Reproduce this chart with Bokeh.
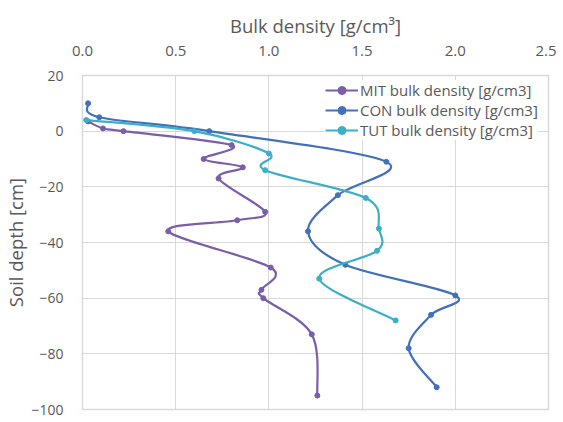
from bokeh.plotting import figure
from bokeh.models import FixedTicker, NumeralTickFormatter, Legend, LegendItem, ColumnDataSource
from bokeh.embed import file_html
from bokeh.resources import INLINE

# ---- data ----
mit_density = [0.03, 0.11, 0.22, 0.80, 0.65, 0.86, 0.73, 0.98, 0.83, 0.46, 1.01, 0.96, 0.97, 1.23, 1.26]
mit_depth = [3.5, 1, 0, -5, -10, -13, -17, -29, -32, -36, -49, -57, -60, -73, -95]

con_density = [0.03, 0.09, 0.68, 1.63, 1.37, 1.21, 1.41, 2.00, 1.87, 1.75, 1.90]
con_depth = [10, 5, 0, -11, -23, -36, -48, -59, -66, -78, -92]

tut_density = [0.02, 0.60, 1.00, 0.98, 1.52, 1.59, 1.58, 1.27, 1.68]
tut_depth = [4, 0, -8, -14, -24, -35, -43, -53, -68]

x_ticks = [0.0, 0.5, 1.0, 1.5, 2.0, 2.5]
y_ticks = [20, 0, -20, -40, -60, -80, -100]

series = [
    ("MIT bulk density [g/cm3]", mit_density, mit_depth, "#7B5EA7"),
    ("CON bulk density [g/cm3]", con_density, con_depth, "#4270BB"),
    ("TUT bulk density [g/cm3]", tut_density, tut_depth, "#3AAFC6"),
]

FONT = "Open Sans"
GREY = "#595959"


def smooth_segments(xs, ys, t=1.0 / 6.0):
    n = len(xs)
    d = dict(x0=[], y0=[], x1=[], y1=[], cx0=[], cy0=[], cx1=[], cy1=[])
    for i in range(n - 1):
        p0 = max(i - 1, 0)
        p3 = min(i + 2, n - 1)
        d["x0"].append(xs[i]); d["y0"].append(ys[i])
        d["x1"].append(xs[i + 1]); d["y1"].append(ys[i + 1])
        d["cx0"].append(xs[i] + (xs[i + 1] - xs[p0]) * t)
        d["cy0"].append(ys[i] + (ys[i + 1] - ys[p0]) * t)
        d["cx1"].append(xs[i + 1] - (xs[p3] - xs[i]) * t)
        d["cy1"].append(ys[i + 1] - (ys[p3] - ys[i]) * t)
    return d


p = figure(
    frame_width=466, frame_height=334,
    x_range=(0, 2.5), y_range=(-100, 20),
    x_axis_location="above",
    output_backend="svg", toolbar_location=None,
    min_border_left=73, min_border_top=75, min_border_right=8, min_border_bottom=12,
)
p.outline_line_color = "#D9D9D9"
p.outline_line_width = 1.5
p.background_fill_color = "white"
p.border_fill_color = "white"

p.xgrid.grid_line_color = "#D9D9D9"
p.ygrid.grid_line_color = "#D9D9D9"
p.xgrid.ticker = FixedTicker(ticks=x_ticks)
p.ygrid.ticker = FixedTicker(ticks=y_ticks)

xa = p.xaxis[0]
xa.ticker = FixedTicker(ticks=x_ticks)
xa.formatter = NumeralTickFormatter(format="0.0")
xa.axis_label = "Bulk density [g/cm³]"
ya = p.yaxis[0]
ya.ticker = FixedTicker(ticks=y_ticks)
ya.axis_label = "Soil depth [cm]"

for ax in (xa, ya):
    ax.axis_line_color = None
    ax.major_tick_line_color = None
    ax.minor_tick_line_color = None
    ax.major_tick_out = 0
    ax.major_tick_in = 0
    ax.minor_tick_out = 0
    ax.minor_tick_in = 0
    ax.major_label_text_color = GREY
    ax.major_label_text_font = FONT
    ax.major_label_text_font_size = "15px"
    ax.axis_label_text_color = GREY
    ax.axis_label_text_font = FONT
    ax.axis_label_text_font_size = "18.5px"
    ax.axis_label_text_font_style = "normal"
ya.major_label_text_font_size = "14px"
xa.major_label_standoff = 20
xa.axis_label_standoff = 5
ya.major_label_standoff = 19
ya.axis_label_standoff = 0

items = []
for name, xs, ys, col in series:
    src = ColumnDataSource(smooth_segments(xs, ys))
    rb = p.bezier(x0="x0", y0="y0", x1="x1", y1="y1", cx0="cx0", cy0="cy0",
                  cx1="cx1", cy1="cy1", source=src, line_color=col, line_width=2.2)
    rc = p.scatter(xs, ys, size=5, color=col, marker="circle")
    items.append(LegendItem(label=name, renderers=[rb, rc]))

legend = Legend(items=items, location=(243, 269))
legend.label_text_font = FONT
legend.label_text_font_size = "15px"
legend.label_text_color = GREY
legend.border_line_color = None
legend.background_fill_alpha = 1.0
legend.spacing = 0
legend.padding = 4
legend.margin = 0
legend.glyph_width = 33
legend.glyph_height = 20
legend.label_height = 20
legend.label_standoff = 2
p.add_layout(legend)

open("out.html", "w").write(file_html(p, INLINE))
